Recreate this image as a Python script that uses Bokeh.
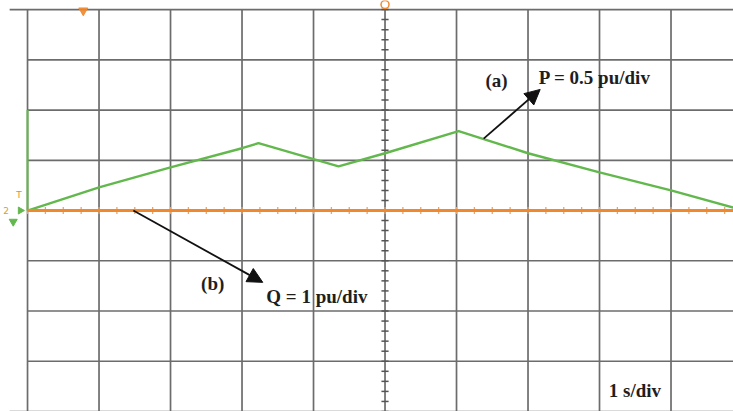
from bokeh.plotting import figure
from bokeh.models import Range1d, Arrow, NormalHead
from bokeh.core.properties import value
from bokeh.embed import file_html
from bokeh.resources import INLINE

# Scope settings
T_PER_DIV = 1.0      # s/div
P_PER_DIV = 0.5      # pu/div
Q_PER_DIV = 1.0      # pu/div

# Active power trace P (pu) versus time (s)
p_time = [0.0, 1.0, 2.0, 3.0, 3.23, 4.35, 5.0, 6.03, 7.0, 8.0, 9.0, 9.87]
p_pu = [0.0, 0.23, 0.43, 0.62, 0.67, 0.44, 0.57, 0.79, 0.57, 0.38, 0.20, 0.03]

# Reactive power trace Q (pu) versus time (s)
q_time = [0.0, 9.87]
q_pu = [0.0, 0.0]

# Graticule: 10 x 8 divisions, with minor ticks on the centre lines
x_div_lines = [0, 1, 2, 3, 4, 5, 6, 7, 8, 9]
y_div_lines = [-4, -3, -2, -1, 0, 1, 2, 3, 4]
x_minor = [i * 0.25 for i in range(0, 40)]
y_minor = [i * 0.2 for i in range(-20, 21)]

# Annotation texts
label_a = "(a)"
label_p = "P = 0.5 pu/div"
label_b = "(b)"
label_q = "Q = 1 pu/div"
label_t = "1 s/div"

# Annotation positions in divisions
arrow_a = dict(x_start=6.38, y_start=1.43, x_end=7.17, y_end=2.41)
arrow_b = dict(x_start=1.48, y_start=0.0, x_end=3.29, y_end=-1.43)

X0, X1 = -0.378, 9.874
Y0, Y1 = -4.0, 4.18

p = figure(width=733, height=411, output_backend="svg", toolbar_location=None,
           x_range=Range1d(X0, X1), y_range=Range1d(Y0, Y1),
           min_border=0, min_border_left=0, min_border_right=0,
           min_border_top=0, min_border_bottom=0)
p.axis.visible = False
p.grid.visible = False
p.outline_line_color = None
p.background_fill_color = "white"
p.border_fill_color = "white"

grid_color = "#6c6c6c"

# vertical graticule lines
p.segment(x0=x_div_lines, y0=[Y0] * len(x_div_lines), x1=x_div_lines,
          y1=[4] * len(x_div_lines), line_color=grid_color, line_width=1.7)
# horizontal graticule lines (outer ones run a little further left)
hx0 = [-0.25 if abs(y) == 4 else 0 for y in y_div_lines]
p.segment(x0=hx0, y0=y_div_lines, x1=[X1] * len(y_div_lines), y1=y_div_lines,
          line_color=grid_color, line_width=1.7)

# minor ticks on the centre cross
p.segment(x0=[5 - 0.05] * len(y_minor), y0=y_minor, x1=[5 + 0.05] * len(y_minor),
          y1=y_minor, line_color="#555555", line_width=1.5)
p.segment(x0=x_minor, y0=[-0.07] * len(x_minor), x1=x_minor, y1=[0.07] * len(x_minor),
          line_color="#e9a46a", line_width=1.3)

green = "#62b84c"
orange = "#f0882e"

# P trace (converted to divisions)
p_div = [v / P_PER_DIV for v in p_pu]
p_t_div = [t / T_PER_DIV for t in p_time]
p.line([0, 0], [0, 2], line_color=green, line_width=2)
p.line(p_t_div, p_div, line_color=green, line_width=2.4)

# Q trace (converted to divisions)
q_div = [v / Q_PER_DIV for v in q_pu]
p.line([t / T_PER_DIV for t in q_time], q_div, line_color=orange, line_width=3)

# channel / trigger markers
p.scatter([0.78], [3.98], marker="inverted_triangle", size=9, color=orange, alpha=0.9)
p.scatter([5.0], [4.1], marker="circle", size=8, fill_color=None,
          line_color=orange, line_width=1.5)
p.text([-0.12], [0.2], text=["T"], text_color=orange, text_font=value("DejaVu Sans"),
       text_font_size="9px", text_align="center", text_baseline="bottom")
p.text([-0.30], [0.0], text=["2"], text_color="#c9a050", text_font=value("DejaVu Sans"),
       text_font_size="9px", text_align="center", text_baseline="middle")
p.scatter([-0.1], [0.0], marker="triangle", angle=-1.5708, size=7, color=green)
p.scatter([-0.2], [-0.22], marker="inverted_triangle", size=8, color=green)

# annotation arrows
for a in (arrow_a, arrow_b):
    p.add_layout(Arrow(end=NormalHead(size=15, fill_color="#111111", line_color="#111111"),
                       line_color="#111111", line_width=1.8, **a))

font = value("Liberation Serif")
txt = dict(text_font=font, text_font_size="19px", text_font_style="bold",
           text_color="#1e1e1e", text_baseline="middle")
p.text([6.56], [2.59], text=[label_a], text_align="center", **txt)
p.text([7.15], [2.65], text=[label_p], text_align="left", **txt)
p.text([2.59], [-1.45], text=[label_b], text_align="center", **txt)
p.text([3.34], [-1.71], text=[label_q], text_align="left", **txt)
p.text([8.13], [-3.58], text=[label_t], text_align="left", **txt)

open("out.html", "w").write(file_html(p, INLINE))
